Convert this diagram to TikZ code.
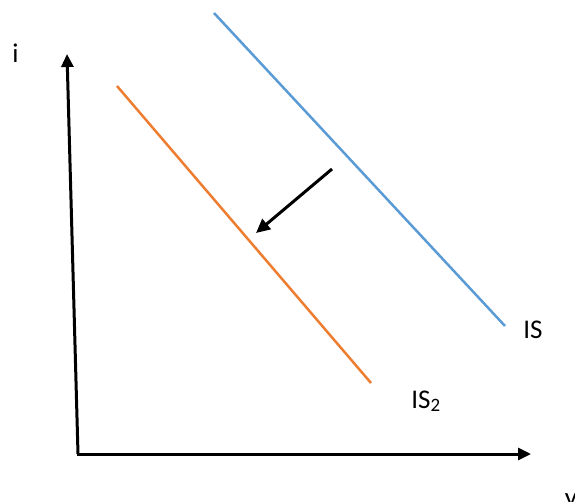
\documentclass[tikz,border=0pt]{standalone}
\usepackage{fontspec}
\setmainfont{Carlito}
\usetikzlibrary{arrows.meta}
\definecolor{isblue}{HTML}{5B9BD5}
\definecolor{isorange}{HTML}{ED7D31}
\begin{document}
\begin{tikzpicture}[x=1pt,y=-1pt,
  axis/.style={line width=3pt,-{Triangle[length=13pt,width=12pt]}},
  curve/.style={line width=2.5pt},
  lbl/.style={font=\fontsize{27}{32}\selectfont,inner sep=0pt,anchor=base}]
\useasboundingbox (0,0) rectangle (575,501);
\coordinate (o) at (78,454);
\coordinate (ytop) at (67,54);
\coordinate (xend) at (531,454);
\draw[axis] (o) -- (ytop);
\draw[axis] ([xshift=-1.5pt]o) -- (xend);
\coordinate (b1) at (214,13);
\coordinate (b2) at (505,326);
\coordinate (r1) at (117,86);
\coordinate (r2) at (371,383);
\draw[curve,isblue] (b1) -- (b2);
\draw[curve,isorange] (r1) -- (r2);
\coordinate (a1) at (332,169);
\coordinate (a2) at (256,233);
\draw[line width=3pt,-{Triangle[length=14pt,width=13pt]}] (a1) -- (a2);
\node[lbl] (li) at (15.5,62) {i};
\node[lbl] (lis) at (533,338) {IS};
\node[lbl] (lis2) at (426,408) {IS\textsubscript{2}};
\node[lbl] (ly) at (571,506) {y};
\end{tikzpicture}
\end{document}
